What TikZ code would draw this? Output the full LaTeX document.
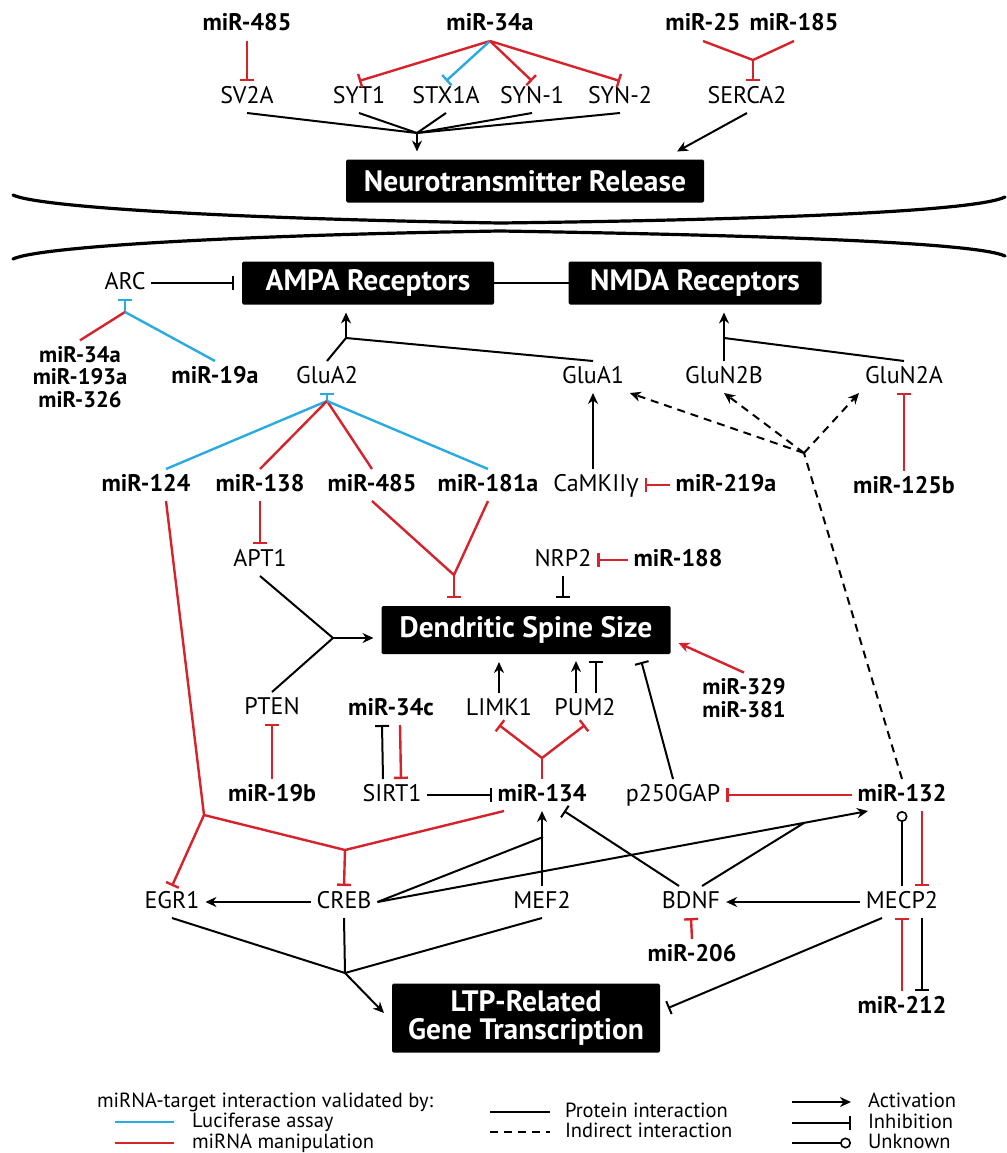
\documentclass[tikz,border=0pt]{standalone}
\usepackage{fontspec}
\setmainfont{PT Sans}
\newfontfamily\greekfont{Open Sans}
\usetikzlibrary{arrows.meta}
\usetikzlibrary{calc}
\definecolor{mirred}{RGB}{214,35,43}
\definecolor{lucblue}{RGB}{41,171,226}
\newcommand{\genefont}{\fontsize{24}{26}\selectfont}
\newcommand{\boxfont}{\fontsize{29.5}{28}\selectfont\bfseries}
\newcommand{\legfont}{\fontsize{20.5}{22}\selectfont}

\begin{document}
\begin{tikzpicture}[x=1pt, y=-1pt, line width=2pt,
        gene_style/.style={font=\genefont, text height=16pt, text depth=4pt, inner sep=5pt},
        mir_style/.style={gene_style, font=\genefont\bfseries},
        group_style/.style={font=\fontsize{22.5}{22.5}\selectfont\bfseries, align=center, inner sep=5pt},
        box_style/.style={fill=black, text=white, font=\boxfont, rounded corners=1.5pt, outer sep=8pt, minimum height=43pt},
        act_style/.style={-{Stealth[length=11pt,width=10pt]}},
        inh_style/.style={-{Bar[width=14pt]}},
        unk_style/.style={-{Circle[open,length=11pt,width=11pt]}, line width=1.6pt},
        red_style/.style={draw=mirred, line width=2.4pt},
        blue_style/.style={draw=lucblue, line width=2.4pt},
        dash_style/.style={dash pattern=on 8pt off 6pt},
        membrane_style/.style={line width=3.2pt, line cap=round},
        legend_style/.style={font=\legfont, anchor=west, inner sep=0pt, text height=14pt, text depth=4pt}]
        \useasboundingbox (0,0) rectangle (1006,1153);

        \node [mir_style] (m485a) at (247,25) {miR-485};
        \node [mir_style] (m34a) at (490,25) {miR-34a};
        \node [mir_style] (m25) at (703,25) {miR-25};
        \node [mir_style] (m185) at (794,25) {miR-185};
        \node [gene_style] (sv2a) at (247,97) {SV2A};
        \node [gene_style] (syt1) at (359,97) {SYT1};
        \node [gene_style] (stx1a) at (446,97) {STX1A};
        \node [gene_style] (syn1) at (532,97) {SYN-1};
        \node [gene_style] (syn2) at (620,97) {SYN-2};
        \node [gene_style] (serca2) at (747,97) {SERCA2};
        \node [box_style, minimum width=358pt] (ntr) at (525,181) {Neurotransmitter Release};
        \coordinate (jntr) at (417,133);
        \coordinate (jserca) at (753,60);

        \draw [red_style, inh_style] (m485a.south) -- (sv2a.north);
        \draw [red_style, inh_style] (m34a.south) -- (syt1.north);
        \draw [blue_style, inh_style] (m34a.south) -- (stx1a.north);
        \draw [red_style, inh_style] (m34a.south) -- (syn1.north);
        \draw [red_style, inh_style] (m34a.south) -- (syn2.north);
        \draw [red_style] (m25.south) -- (jserca) -- (m185.south);
        \draw [red_style, inh_style] (jserca) -- (jserca |- serca2.north);
        \foreach \g in {sv2a,syt1,stx1a,syn1,syn2}
            \draw (\g.south) -- (jntr);
        \draw [act_style] (jntr) -- (jntr |- ntr.north);
        \draw [act_style] (serca2.south) -- ([xshift=-35pt]ntr.north east);

        \draw [membrane_style] (13,195) .. controls (40,208) and (250,219) .. (500,223) .. controls (750,220) and (975,212) .. (1005,197);
        \draw [membrane_style] (13,259) .. controls (40,246) and (250,235) .. (500,231) .. controls (750,235) and (975,242) .. (1005,256);

        \node [gene_style] (arc) at (125,283) {ARC};
        \node [box_style, minimum width=252pt] (ampa) at (368,283) {AMPA Receptors};
        \node [box_style, minimum width=253pt] (nmda) at (695,283) {NMDA Receptors};
        \node [group_style] (m34grp) at (80,377) {miR-34a\\miR-193a\\miR-326};
        \node [mir_style] (m19a) at (215,377) {miR-19a};
        \node [gene_style] (glua2) at (327,377) {GluA2};
        \node [gene_style] (glua1) at (593,377) {GluA1};
        \node [gene_style] (glun2b) at (724,377) {GluN2B};
        \node [gene_style] (glun2a) at (904,377) {GluN2A};
        \node [mir_style] (m124) at (146,485) {miR-124};
        \node [mir_style] (m138) at (260,485) {miR-138};
        \node [mir_style] (m485b) at (372,485) {miR-485};
        \node [mir_style] (m181a) at (488,485) {miR-181a};
        \node [gene_style] (camk) at (596,485) {CaMKII{\greekfont γ}};
        \node [mir_style] (m219a) at (726,485) {miR-219a};
        \node [mir_style] (m125b) at (904,487) {miR-125b};
        \node [gene_style] (apt1) at (260,560) {APT1};
        \node [gene_style] (nrp2) at (563,560) {NRP2};
        \node [mir_style] (m188) at (678,560) {miR-188};
        \node [box_style, minimum width=289pt, minimum height=48pt] (dss) at (526,630) {Dendritic Spine Size};
        \node [gene_style] (pten) at (272,708) {PTEN};
        \node [mir_style] (m34c) at (391,709) {miR-34c};
        \node [gene_style] (limk1) at (499,709) {LIMK1};
        \node [gene_style] (pum2) at (585,709) {PUM2};
        \node [group_style] (m329) at (744,698) {miR-329\\miR-381};
        \node [mir_style] (m19b) at (272,795) {miR-19b};
        \node [gene_style] (sirt1) at (392,795) {SIRT1};
        \node [mir_style] (m134) at (542,795) {miR-134};
        \node [gene_style] (p250gap) at (673,795) {p250GAP};
        \node [mir_style] (m132) at (902,795) {miR-132};
        \node [gene_style] (egr1) at (172,902) {EGR1};
        \node [gene_style] (creb) at (344,902) {CREB};
        \node [gene_style] (mef2) at (542,902) {MEF2};
        \node [gene_style] (bdnf) at (691,902) {BDNF};
        \node [gene_style] (mecp2) at (902,902) {MECP2};
        \node [mir_style] (m206) at (692,955) {miR-206};
        \node [mir_style] (m212) at (902,1007) {miR-212};
        \node [box_style, minimum width=268pt, minimum height=69pt, align=center] (ltp) at (526,1018) {LTP-Related\\Gene Transcription};

        \coordinate (jarc) at (125,312);
        \coordinate (jampa) at (346,338);
        \coordinate (jnmda) at (724,338);
        \coordinate (jglua2) at (327,401);
        \coordinate (jdash) at (804,453);
        \coordinate (jdss) at (454,575);
        \coordinate (japt) at (333,638);
        \coordinate (jlim) at (542,758);
        \coordinate (jred) at (204,815);
        \coordinate (jcreb) at (345,850);
        \coordinate (jmef) at (543,837);
        \coordinate (jltp) at (345,973);

        \draw [inh_style] (arc.east) -- (ampa.west);
        \draw [shorten <=-8pt, shorten >=-8pt, line width=2.6pt] (ampa.east) -- (nmda.west);
        \draw [blue_style, inh_style] (jarc) -- (arc.south);
        \draw [red_style] (m34grp.north) -- (jarc);
        \draw [blue_style] (m19a.north) -- (jarc);
        \draw (glua2.north) -- (jampa) -- (glua1.north);
        \draw [act_style] (jampa) -- (jampa |- ampa.south);
        \draw (glun2a.north) -- (jnmda);
        \draw [act_style] (glun2b.north) -- (glun2b.north |- nmda.south);
        \draw [blue_style, inh_style] (jglua2) -- (glua2.south);
        \draw [blue_style] (jglua2) -- ([xshift=20pt]m124.north);
        \draw [red_style] (jglua2) -- (m138.north);
        \draw [red_style] (jglua2) -- (m485b.north);
        \draw [blue_style] (jglua2) -- (m181a.north);
        \draw [act_style] (camk.north -| glua1) -- (glua1.south);
        \draw [red_style, inh_style] (m219a.west) -- (camk.east);
        \draw [red_style, inh_style] (m125b.north) -- (glun2a.south);
        \draw [dash_style] (m132.north) -- (jdash);
        \draw [dash_style, act_style] (jdash) -- (glua1.south east);
        \draw [dash_style, act_style] (jdash) -- (glun2b.south);
        \draw [dash_style, act_style] (jdash) -- (glun2a.south west);

        \draw [red_style, inh_style] (m138.south) -- (apt1.north);
        \draw [red_style] (m485b.south) -- (jdss) -- (m181a.south);
        \draw [red_style, inh_style] (jdss) -- (jdss |- dss.north);
        \draw [red_style, inh_style] (m188.west) -- (nrp2.east);
        \draw [inh_style] (nrp2.south) -- (nrp2.south |- dss.north);
        \draw (apt1.south) -- (japt) -- (pten.north);
        \draw [act_style] (japt) -- (japt -| dss.west);
        \draw [act_style] (limk1.north) -- (limk1.north |- dss.south);
        \draw [act_style] ([xshift=-9pt]pum2.north) -- ++(0,-32);
        \draw [inh_style] ([xshift=11pt]pum2.north) -- ++(0,-32);
        \draw [inh_style] (p250gap.north) -- ([xshift=-37pt]dss.south east);
        \draw [red_style, act_style] (m329.north) -- ([yshift=-13pt]dss.east);
        \draw [red_style, inh_style] (m19b.north) -- (pten.south);
        \draw [inh_style] ([xshift=-9pt]sirt1.north) -- ([xshift=-9pt]m34c.south);
        \draw [red_style, inh_style] ([xshift=9pt]m34c.south) -- ([xshift=9pt]sirt1.north);
        \draw [red_style] (m134.north) -- (jlim);
        \draw [red_style, inh_style] (jlim) -- (limk1.south);
        \draw [red_style, inh_style] (jlim) -- (pum2.south);

        \draw [inh_style] (sirt1.east) -- (m134.west);
        \draw [red_style, inh_style] (m132.west) -- (p250gap.east);
        \draw [red_style] ([xshift=20pt]m124.south) -- (jred) -- (jcreb) -- ([xshift=-38pt]m134.south);
        \draw [red_style, inh_style] (jred) -- (egr1.north);
        \draw [red_style, inh_style] (jcreb) -- (creb.north);
        \draw [act_style] (creb.west) -- (egr1.east);
        \draw (creb.east) -- (jmef);
        \draw [act_style] (mef2.north) -- (m134.south);
        \draw [act_style] (creb.east) -- ([xshift=-34pt]m132.south);
        \coordinate (jbdnf) at ($(creb.east)!0.87!([xshift=-34pt]m132.south)$);
        \draw ([xshift=11pt]bdnf.north) -- (jbdnf);
        \draw [inh_style] ([xshift=-12pt]bdnf.north) -- ([xshift=22pt]m134.south);
        \draw [unk_style] (mecp2.north) -- (m132.south);
        \draw [red_style, inh_style] ([xshift=20pt]m132.south) -- ([xshift=20pt]mecp2.north);
        \draw [act_style] (mecp2.west) -- (bdnf.east);
        \draw [red_style, inh_style] (m206.north) -- (bdnf.south);
        \draw [red_style, inh_style] (m212.north) -- (mecp2.south);
        \draw [inh_style] ([xshift=20pt]mecp2.south) -- ([xshift=20pt]m212.north);
        \draw (egr1.south) -- (jltp);
        \draw (creb.south) -- (jltp);
        \draw (mef2.south) -- (jltp);
        \draw [act_style] (jltp) -- ([yshift=5pt]ltp.west);
        \draw [inh_style] ([xshift=-20pt]mecp2.south) -- ([yshift=10pt]ltp.east);

        \node [legend_style] (legtitle) at (96,1102) {miRNA-target interaction validated by:};
        \node [legend_style] (legluc) at (191,1122) {Luciferase assay};
        \node [legend_style] (legman) at (191,1143) {miRNA manipulation};
        \node [legend_style] (legprot) at (564,1112) {Protein interaction};
        \node [legend_style] (legind) at (564,1132) {Indirect interaction};
        \node [legend_style] (legact) at (867,1102) {Activation};
        \node [legend_style] (leginh) at (867,1123) {Inhibition};
        \node [legend_style] (legunk) at (867,1143) {Unknown};
        \draw [blue_style] ([xshift=-76pt]legluc.west) -- ([xshift=-17pt]legluc.west);
        \draw [red_style] ([xshift=-76pt]legman.west) -- ([xshift=-17pt]legman.west);
        \draw ([xshift=-74pt]legprot.west) -- ([xshift=-14pt]legprot.west);
        \draw [dash_style] ([xshift=-74pt]legind.west) -- ([xshift=-14pt]legind.west);
        \draw [act_style] ([xshift=-75pt]legact.west) -- ([xshift=-16pt]legact.west);
        \draw [inh_style] ([xshift=-75pt]leginh.west) -- ([xshift=-16pt]leginh.west);
        \draw [unk_style] ([xshift=-75pt]legunk.west) -- ([xshift=-16pt]legunk.west);
\end{tikzpicture}
\end{document}
